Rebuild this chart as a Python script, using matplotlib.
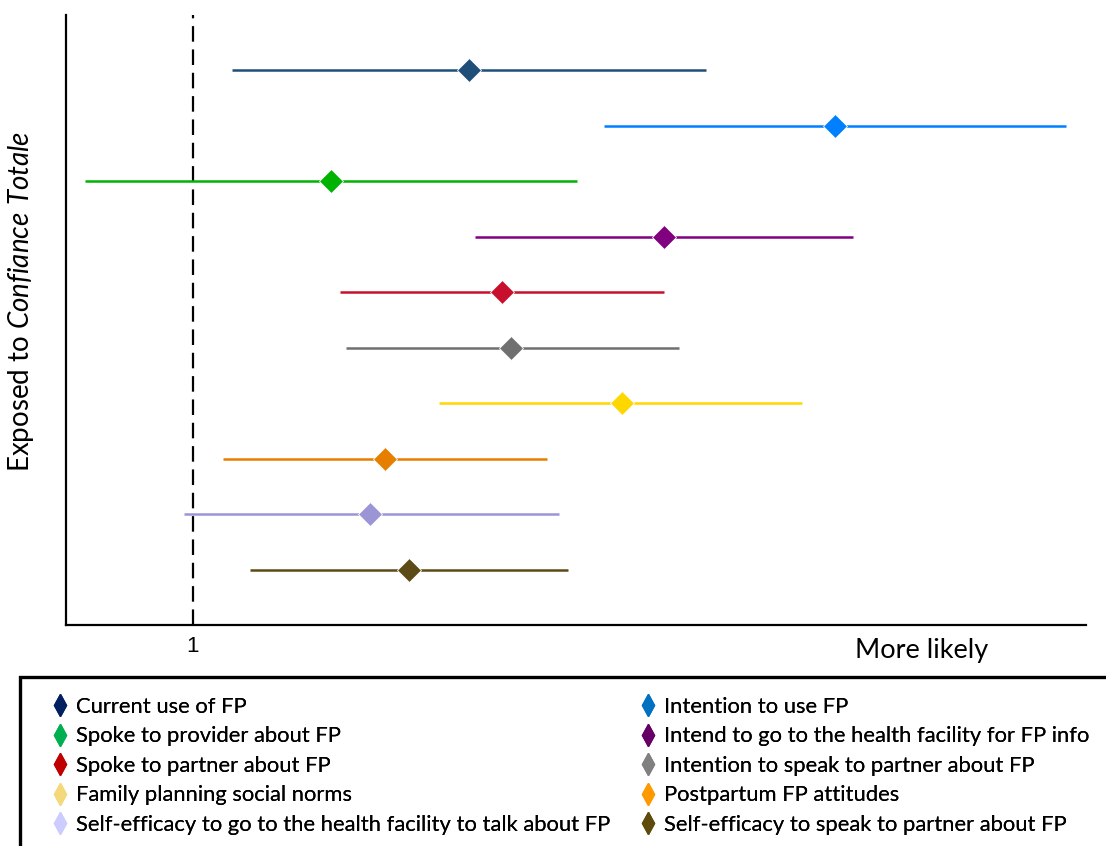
"""
    Forest plot of odds ratios for FP outcomes among women exposed to Confiance Totale.
"""
import matplotlib
matplotlib.use("Agg")
import matplotlib.pyplot as plt
from matplotlib.lines import Line2D
from matplotlib.patches import Rectangle

OUTCOMES = ["Current use of FP",
            "Intention to use FP",
            "Spoke to provider about FP",
            "Intend to go to the health facility for FP info",
            "Spoke to partner about FP",
            "Intention to speak to partner about FP",
            "Family planning social norms",
            "Postpartum FP attitudes",
            "Self-efficacy to go to the health facility to talk about FP",
            "Self-efficacy to speak to partner about FP"]
ODDS_RATIO = [1.92, 3.14, 1.46, 2.57, 2.03, 2.06, 2.43, 1.64, 1.59, 1.72]
CI_LOW = [1.13, 2.37, 0.64, 1.94, 1.49, 1.51, 1.82, 1.10, 0.97, 1.19]
CI_HIGH = [2.71, 3.91, 2.28, 3.20, 2.57, 2.62, 3.03, 2.18, 2.22, 2.25]

PLOT_COLORS = ["#1f4e79", "#0080ff", "#00b300", "#800080", "#c8102e",
               "#707070", "#ffd700", "#e67e00", "#9b95d6", "#5c4a17"]
LEGEND_COLORS = ["#002060", "#0070c0", "#00b050", "#660066", "#c00000",
                 "#808080", "#f4d97a", "#ff9900", "#ccccff", "#5f4b0b"]

plt.rcParams["font.family"] = ["Lato", "DejaVu Sans"]
plt.rcParams["mathtext.fontset"] = "custom"
plt.rcParams["mathtext.rm"] = "Lato"
plt.rcParams["mathtext.it"] = "Lato:italic"

fig = plt.figure(figsize=(11.06, 8.46), dpi=100)
axes = fig.add_axes([0.0597, 0.2612, 0.9222, 0.7211])

n_rows = len(OUTCOMES)
for idx, name in enumerate(OUTCOMES):
    ypos = n_rows - idx
    axes.plot([CI_LOW[idx], CI_HIGH[idx]], [ypos, ypos], color=PLOT_COLORS[idx],
              lw=1.8, solid_capstyle="butt", zorder=2)
    axes.plot(ODDS_RATIO[idx], ypos, "D", color=PLOT_COLORS[idx], ms=12,
              mec="white", mew=0.6, zorder=3)

axes.axvline(1, color="black", lw=1.6, dashes=(7, 3.5), zorder=1)

axes.set_xlim(0.577, 3.977)
axes.set_ylim(0, 11)
axes.set_yticks([])
axes.set_xticks([1])
axes.set_xticklabels(["1"], fontsize=16, family="Liberation Sans")
axes.tick_params(axis="x", length=0, pad=8)
for side in ("top", "right"):
    axes.spines[side].set_visible(False)
for side in ("left", "bottom"):
    axes.spines[side].set_linewidth(1.6)

axes.set_ylabel(r"Exposed to $\mathit{Confiance\ Totale}$", fontsize=20)
axes.yaxis.set_label_coords(-0.029, 0.53)
axes.text(0.839, -0.041, "More likely", transform=axes.transAxes,
          ha="center", va="center", fontsize=19.5)

# legend box runs off the right and bottom edges
fig.add_artist(Rectangle((20 / 1106, -0.05), 1.0, 0.2498, transform=fig.transFigure,
                         fill=False, edgecolor="black", lw=2.4, clip_on=False))

handles = [Line2D([], [], ls="none", marker="d", ms=11, color=col)
           for col in LEGEND_COLORS]
for col_start, left in ((0, 52 / 1106), (1, 640 / 1106)):
    leg = fig.legend([handles[i] for i in range(col_start, n_rows, 2)],
                     [OUTCOMES[i] for i in range(col_start, n_rows, 2)],
                     loc="upper left", bbox_to_anchor=(left, (846 - 697) / 846),
                     frameon=False, fontsize=15.8, handlelength=0.72, handletextpad=0.38,
                     labelspacing=0.43, borderpad=0, borderaxespad=0)
    fig.add_artist(leg)

plt.savefig("out.png", dpi=100)
